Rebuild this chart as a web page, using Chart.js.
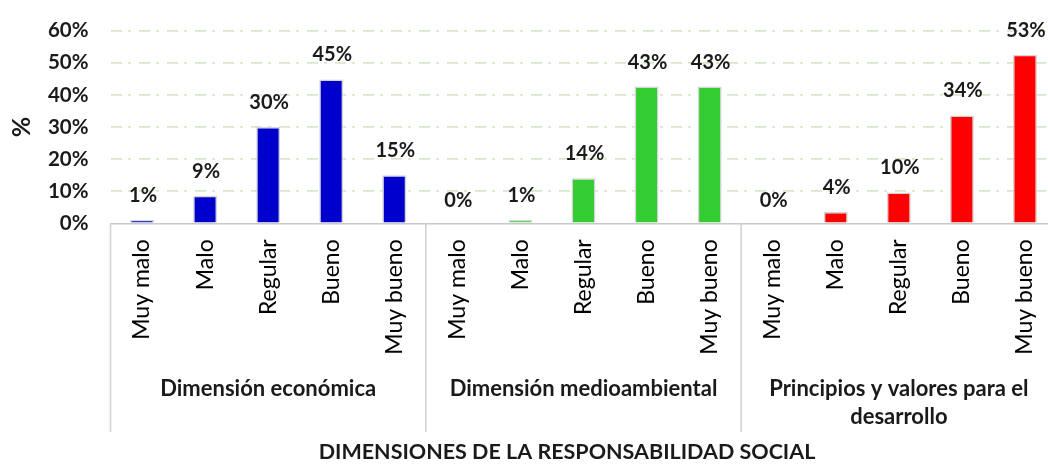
<!DOCTYPE html>
<html>
<head>
<meta charset="utf-8">
<script src="https://cdn.jsdelivr.net/npm/chart.js@4.4.1/dist/chart.umd.min.js"></script>
<style>
  html, body { margin: 0; padding: 0; background: #fff; overflow: hidden; }
  #wrap { width: 1060px; height: 464px; }
</style>
</head>
<body>
<div id="wrap"><canvas id="chart" width="1060" height="464"></canvas></div>
<script>
// Categories and values
const categories = ['Muy malo', 'Malo', 'Regular', 'Bueno', 'Muy bueno'];
const groups = [['Dimensión económica'], ['Dimensión medioambiental'], ['Principios y valores para el', 'desarrollo']];
const economica = [1, 8.6, 30, 44.8, 15];
const medioambiental = [0, 1, 14, 42.6, 42.6];
const principios = [0, 3.5, 9.6, 33.6, 52.5];
const groupColors = ['#0000CC', '#33CC33', '#FF0000'];
const yTicks = [0, 10, 20, 30, 40, 50, 60];
const xTitle = 'DIMENSIONES DE LA RESPONSABILIDAD SOCIAL';
const yTitle = '%';

const series = [economica, medioambiental, principios];
const labels = [];
const values = [];
const colors = [];
series.forEach((s, g) => {
    s.forEach((v, i) => {
        labels.push(categories[i]);
        values.push(v);
        colors.push(groupColors[g]);
    });
});

// Extra drawing: data labels, group separators, group names, titles
const extras = {
    id: 'extras',
    afterDatasetsDraw(chart) {
        const ctx = chart.ctx;
        const area = chart.chartArea;
        const meta = chart.getDatasetMeta(0);
        ctx.save();
        ctx.fillStyle = '#1a1a1a';
        ctx.font = 'bold 20px Lato';
        ctx.textAlign = 'center';
        ctx.textBaseline = 'alphabetic';
        meta.data.forEach((bar, i) => {
            ctx.fillText(Math.round(values[i]) + '%', bar.x + 1, bar.y - (values[i] === 0 ? 16 : 18));
        });

        // separators below the axis
        const step = (area.right - area.left) / labels.length;
        ctx.strokeStyle = '#d0d0d0';
        ctx.lineWidth = 1.5;
        for (let g = 0; g < groups.length; g++) {
            const x = area.left + g * categories.length * step;
            ctx.beginPath();
            ctx.moveTo(x, area.bottom);
            ctx.lineTo(x, 432);
            ctx.stroke();
        }

        // group names
        ctx.font = 'bold 22px Lato';
        ctx.textBaseline = 'middle';
        groups.forEach((lines, g) => {
            const cx = area.left + (g * categories.length + categories.length / 2) * step;
            lines.forEach((t, k) => ctx.fillText(t, cx, 389 + k * 28));
        });

        // axis titles
        ctx.font = 'bold 21.5px Lato';
        ctx.fillText(xTitle, 567, 452);
        ctx.translate(22, 127);
        ctx.rotate(-Math.PI / 2);
        ctx.font = 'bold 25px Lato';
        ctx.fillText(yTitle, 0, 0);
        ctx.restore();
    }
};

new Chart(document.getElementById('chart'), {
    type: 'bar',
    data: {
        labels: labels,
        datasets: [{
            data: values,
            backgroundColor: colors,
            borderColor: '#d4d4d4',
            borderWidth: ctx => (ctx.raw === 0 ? 0 : 1.5),
            barPercentage: 0.38,
            categoryPercentage: 1
        }]
    },
    options: {
        responsive: false,
        animation: false,
        layout: { padding: { top: 30.7, right: 3.5, left: 0, bottom: 0 } },
        plugins: { legend: { display: false }, tooltip: { enabled: false } },
        scales: {
            x: {
                grid: { display: false, drawTicks: false },
                border: { display: true, color: '#c8c8c8', width: 1.5 },
                ticks: {
                    color: '#000',
                    font: { family: 'Lato', size: 23 },
                    minRotation: 90,
                    maxRotation: 90,
                    autoSkip: false,
                    padding: 16
                },
                afterFit: s => { s.height = 240.7; s.paddingLeft = 0; s.paddingRight = 0; }
            },
            y: {
                min: 0,
                max: 60,
                afterBuildTicks: s => { s.ticks = yTicks.map(v => ({ value: v })); },
                grid: {
                    drawTicks: false,
                    color: c => (c.tick && c.tick.value === 0 ? 'rgba(0,0,0,0)' : '#d6e7cb'),
                    lineWidth: 1.8
                },
                border: { display: false, dash: [11, 6, 3, 8] },
                ticks: {
                    color: '#1a1a1a',
                    font: { family: 'Lato', size: 20.5, weight: 'bold' },
                    padding: 22,
                    callback: v => v + '%'
                },
                afterFit: s => { s.width = 110.5; s.paddingTop = 0; s.paddingBottom = 0; }
            }
        }
    },
    plugins: [extras]
});
</script>
</body>
</html>
